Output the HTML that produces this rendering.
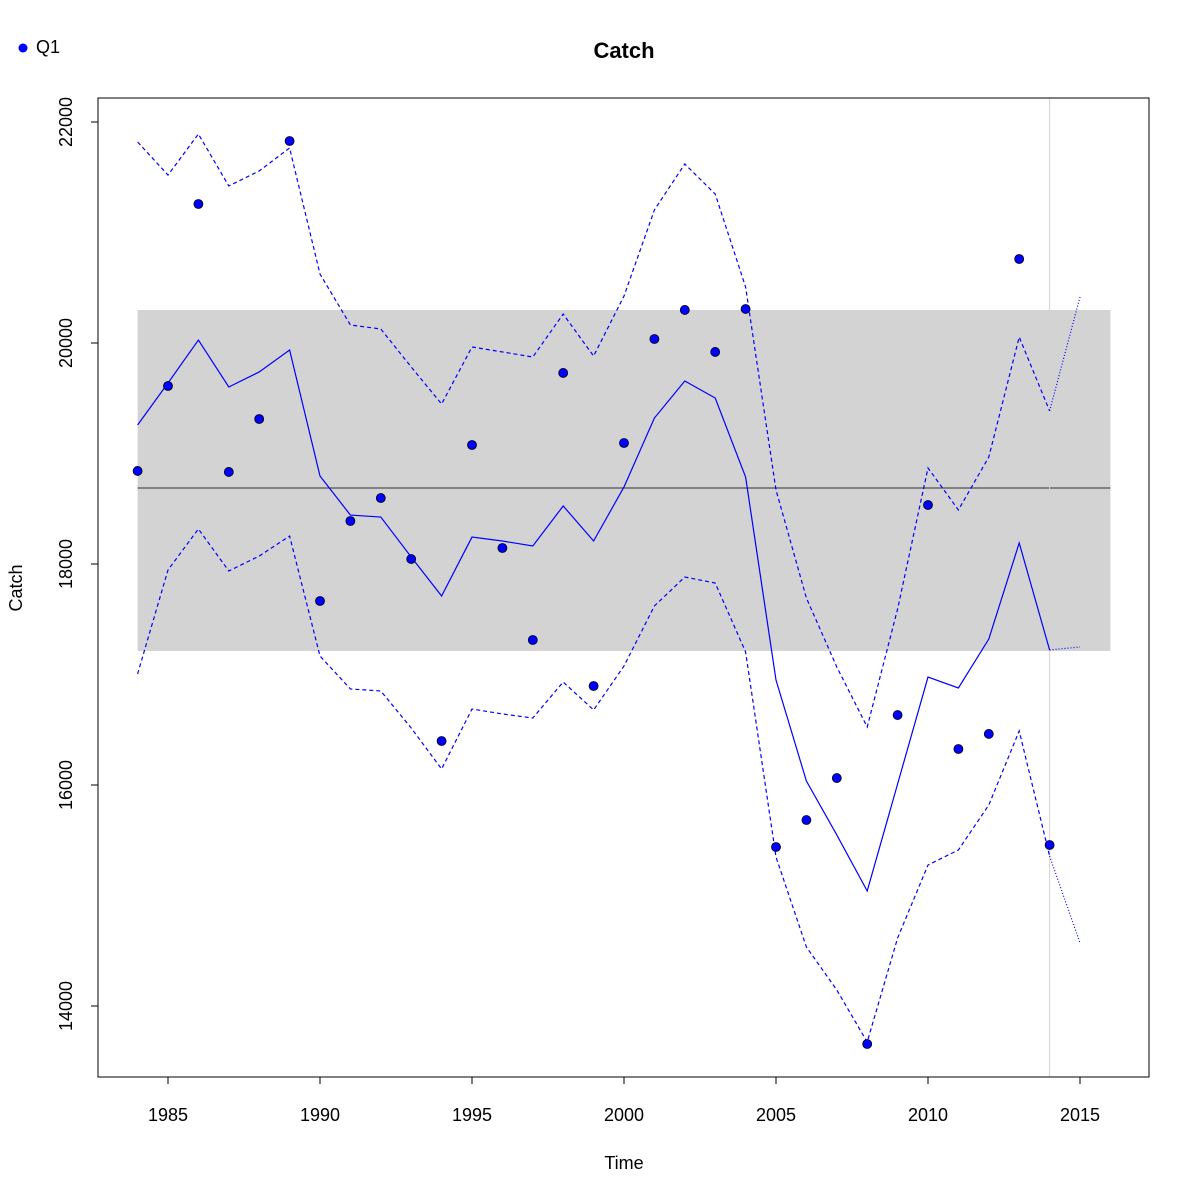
<!DOCTYPE html>
<html><head><meta charset="utf-8"><style>
html,body{margin:0;padding:0;background:#fff;}
svg{display:block;font-family:"Liberation Sans","DejaVu Sans",sans-serif;}
</style></head><body>
<svg id="c" width="1200" height="1200"></svg>
<script>
const years=[1984,1985,1986,1987,1988,1989,1990,1991,1992,1993,1994,1995,1996,1997,1998,1999,2000,2001,2002,2003,2004,2005,2006,2007,2008,2009,2010,2011,2012,2013,2014];
const observed=[18842,19611,21258,18833,19312,21828,17665,18389,18597,18045,16398,19077,18145,17312,19729,16896,19095,20036,20299,19919,20308,15439,15683,16063,13656,16633,18534,16326,16462,20760,15457];
const fitted=[19258,19638,20027,19602,19738,19937,18796,18443,18425,18063,17710,18244,18208,18163,18525,18208,18697,19321,19656,19502,18787,16950,16036,15548,15041,16009,16977,16878,17321,18190,17222];
const upper=[21819,21520,21891,21421,21557,21765,20624,20163,20127,19783,19448,19964,19919,19873,20262,19882,20425,21204,21620,21348,20507,18670,17692,17068,16525,17593,18869,18489,18968,20054,19385];
const lower=[17005,17946,18317,17937,18072,18253,17167,16869,16851,16516,16145,16688,16643,16606,16932,16679,17077,17620,17882,17828,17204,15348,14534,14145,13674,14615,15276,15412,15819,16489,15357];
const forecastYears=[2014,2015];
const forecastFit=[17222,17249];
const forecastUpper=[19385,20416];
const forecastLower=[15357,14570];
const bandRange=[17213,20299];
const meanLevel=18688;
const bandYears=[1984,2016];
const currentYear=2014;
const xTicks=[1985,1990,1995,2000,2005,2010,2015];
const yTicks=[14000,16000,18000,20000,22000];

const NS="http://www.w3.org/2000/svg";
const svg=document.getElementById('c');
const X=v=>168+(v-1985)*30.4;
const Y=v=>122+(22000-v)*0.1105;
function mk(tag,attrs,parent){const e=document.createElementNS(NS,tag);for(const k in attrs)e.setAttribute(k,attrs[k]);(parent||svg).appendChild(e);return e;}

// band
let e=mk('rect',{x:X(bandYears[0]),y:Y(bandRange[1]),width:X(bandYears[1])-X(bandYears[0]),height:Y(bandRange[0])-Y(bandRange[1]),fill:'#d3d3d3'});


e=mk('line',{x1:X(bandYears[0]),x2:X(bandYears[1]),y1:Y(meanLevel),y2:Y(meanLevel),stroke:'#666','stroke-width':1.5});


e=mk('line',{x1:X(currentYear),x2:X(currentYear),y1:98,y2:1077,stroke:'#d3d3d3','stroke-width':1});



function line(xs,ys,dash,name){
  const d=xs.map((x,i)=>(i?'L':'M')+X(x)+' '+Y(ys[i])).join(' ');
  const p=mk('path',{d:d,fill:'none',stroke:'#0000ff','stroke-width':1.2});
  if(dash)p.setAttribute('stroke-dasharray',dash);
  
  
}
line(years,upper,'4,3','upper-bound-line');
line(years,lower,'4,3','lower-bound-line');
line(years,fitted,null,'fitted-line');
line(forecastYears,forecastUpper,'1,2','forecast-upper-line');
line(forecastYears,forecastLower,'1,2','forecast-lower-line');
line(forecastYears,forecastFit,'1,2','forecast-fit-line');

years.forEach((yr,i)=>{
  const c=mk('circle',{cx:X(yr),cy:Y(observed[i]),r:4.5,fill:'#0000ff',stroke:'#000','stroke-width':0.8});
  
  
});

// frame
e=mk('rect',{x:98,y:98,width:1051,height:979,fill:'none',stroke:'#000','stroke-width':1});


// x axis
xTicks.forEach(t=>{
  mk('line',{x1:X(t),x2:X(t),y1:1077,y2:1084,stroke:'#000'});
  const tx=mk('text',{x:X(t),y:1121,'text-anchor':'middle','font-size':18});
  tx.textContent=t;
  
  
});
yTicks.forEach(t=>{
  mk('line',{x1:91,x2:98,y1:Y(t),y2:Y(t),stroke:'#000'});
  const tx=mk('text',{x:72,y:Y(t),'text-anchor':'middle','font-size':18,transform:`rotate(-90 72 ${Y(t)})`});
  tx.textContent=t;
  
  
});
e=mk('text',{x:624,y:1169,'text-anchor':'middle','font-size':18});e.textContent='Time';


e=mk('text',{x:22,y:588,'text-anchor':'middle','font-size':18,transform:'rotate(-90 22 588)'});e.textContent='Catch';


e=mk('text',{x:624,y:58,'text-anchor':'middle','font-size':22,'font-weight':'bold'});e.textContent='Catch';


e=mk('circle',{cx:23,cy:48,r:4.5,fill:'#0000ff'});


e=mk('text',{x:36,y:53,'font-size':18});e.textContent='Q1';


</script>
</body></html>
